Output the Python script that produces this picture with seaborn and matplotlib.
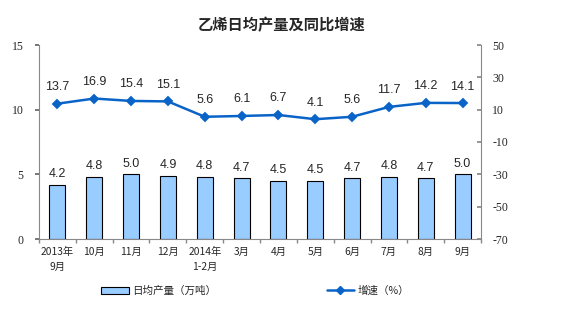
import matplotlib
matplotlib.use("Agg")
import matplotlib.pyplot as plt
import seaborn as sns
import pandas as pd
import numpy as np
from matplotlib.patches import Patch
from matplotlib.lines import Line2D

categories = ["2013年\n9月", "10月", "11月", "12月", "2014年\n1-2月", "3月", "4月",
              "5月", "6月", "7月", "8月", "9月"]
output = [4.2, 4.8, 5.0, 4.9, 4.8, 4.7, 4.5, 4.5, 4.7, 4.8, 4.7, 5.0]
growth = [13.7, 16.9, 15.4, 15.1, 5.6, 6.1, 6.7, 4.1, 5.6, 11.7, 14.2, 14.1]
left_ticks = [0, 5, 10, 15]
right_ticks = [-70, -50, -30, -10, 10, 30, 50]

sns.set_theme(style="white")
cjk = ["Noto Sans CJK SC", "DejaVu Sans"]
plt.rcParams["font.family"] = cjk

df = pd.DataFrame({"cat": categories, "output": output, "growth": growth})

fig = plt.figure(figsize=(5.63, 3.26), dpi=100)
ax = fig.add_axes([39/563, 1-239/326, (481-39)/563, (239-45)/326])

bar_color = "#99CCFF"
line_color = "#0A64C8"

sns.barplot(data=df, x="cat", y="output", ax=ax, color=bar_color, width=0.43,
            edgecolor="black", linewidth=0.8, saturation=1)
ax.set_ylim(0, 15)
ax.set_xlim(-0.5, len(categories) - 0.5)
ax.set_yticks(left_ticks)
ax.set_yticklabels([str(t) for t in left_ticks], family="Liberation Serif", fontsize=8.5)
ax.set_xlabel("")
ax.set_ylabel("")
ax.tick_params(axis="x", length=0, labelsize=7.2, pad=6)
ax.tick_params(axis="y", length=3, direction="out", left=True, pad=8, color="#666666")
ax.set_xticks(range(len(categories)))
ax.set_xticklabels(categories, fontsize=7.4, linespacing=1.6)
ax.set_xticks(np.arange(-0.5, len(categories) + 0.5, 1), minor=True)
ax.tick_params(axis="x", which="minor", length=3, direction="out", bottom=True, color="#888888")
for s in ["left", "bottom"]:
    ax.spines[s].set_color("#888888")
    ax.spines[s].set_linewidth(0.8)
ax.spines["top"].set_visible(False)
ax.spines["right"].set_visible(False)

for i, v in enumerate(output):
    ax.text(i, v + 0.35, f"{v:.1f}", ha="center", va="bottom", fontsize=9,
            family="Liberation Sans")

ax2 = ax.twinx()
sns.pointplot(data=df, x="cat", y="growth", ax=ax2, color=line_color, markers="D",
              markersize=4, linewidth=1.8)
ax2.set_ylim(-70, 50)
ax2.set_xlim(-0.5, len(categories) - 0.5)
ax2.set_yticks(right_ticks)
ax2.set_yticklabels([str(t) for t in right_ticks], family="Liberation Serif", fontsize=8.5)
ax2.set_ylabel("")
ax2.set_xlabel("")
ax2.tick_params(axis="y", length=3, direction="in", right=True, pad=8, color="#888888")
for s in ["top", "left", "bottom"]:
    ax2.spines[s].set_visible(False)
ax2.spines["right"].set_color("#888888")
ax2.spines["right"].set_linewidth(0.8)
ax2.grid(False)
ax.grid(False)

for i, v in enumerate(growth):
    ax2.text(i, v + 6.5, f"{v:.1f}", ha="center", va="bottom", fontsize=9,
             family="Liberation Sans")

fig.text(0.5, 1-25/326, "乙烯日均产量及同比增速", ha="center", va="center",
         fontsize=11, fontweight="bold")

handles = [Patch(facecolor=bar_color, edgecolor="black", linewidth=0.8),
           Line2D([0], [0], color=line_color, marker="D", markersize=4, linewidth=1.8)]
fig.legend(handles, ["日均产量（万吨）", "增速（%）"], loc="center",
           bbox_to_anchor=(255/563, 1-291/326), ncol=2, frameon=False,
           fontsize=7.6, columnspacing=10.5, handlelength=2.6, handletextpad=0.3)

fig.savefig("out.png", dpi=100)
